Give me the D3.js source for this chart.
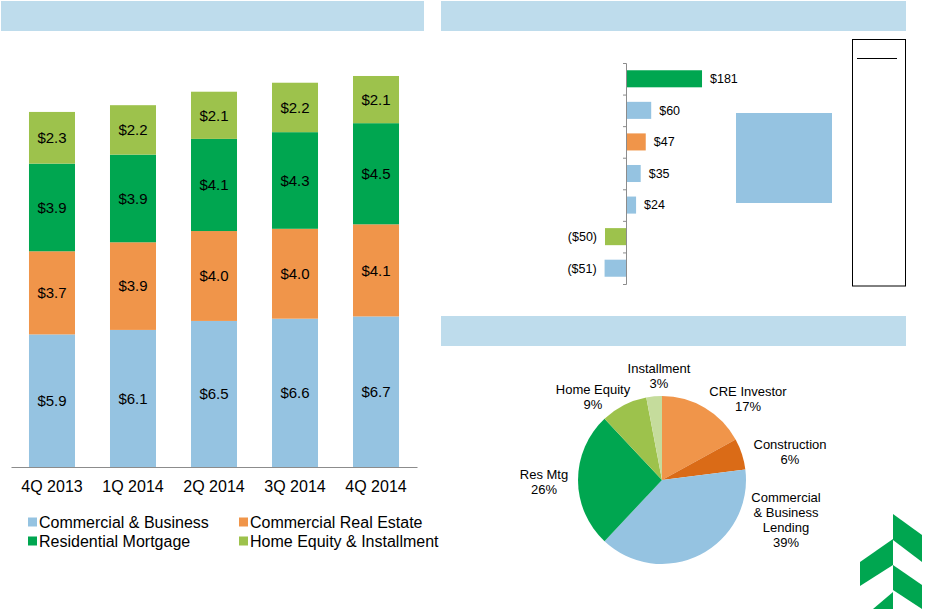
<!DOCTYPE html>
<html>
<head>
<meta charset="utf-8">
<script src="https://cdn.jsdelivr.net/npm/d3@7"></script>
<style>
  html, body { margin: 0; padding: 0; background: #fff; }
  svg { display: block; font-family: "Liberation Sans", Arial, sans-serif; }
</style>
</head>
<body>
<svg id="chart" width="927" height="609"></svg>
<script>
// ---------- DATA ----------
const quarters = ["4Q 2013", "1Q 2014", "2Q 2014", "3Q 2014", "4Q 2014"];
const seriesNames = ["Commercial & Business", "Commercial Real Estate", "Residential Mortgage", "Home Equity & Installment"];
const commercialBusiness = [5.9, 6.1, 6.5, 6.6, 6.7];
const commercialRealEstate = [3.7, 3.9, 4.0, 4.0, 4.1];
const residentialMortgage = [3.9, 3.9, 4.1, 4.3, 4.5];
const homeEquityInstallment = [2.3, 2.2, 2.1, 2.2, 2.1];

const changeKeys = ["c1", "c2", "c3", "c4", "c5", "c6", "c7"];
const changeValues = [181, 60, 47, 35, 24, -50, -51];
const changeLabels = ["$181", "$60", "$47", "$35", "$24", "($50)", "($51)"];
const changeSeries = ["Residential Mortgage", "Commercial & Business", "Commercial Real Estate",
  "Commercial & Business", "Commercial & Business", "Home Equity & Installment", "Commercial & Business"];

const pieNames = ["CRE Investor", "Construction", "Commercial\n& Business\nLending", "Res Mtg", "Home Equity", "Installment"];
const pieValues = [17, 6, 39, 26, 9, 3];

// ---------- STYLE ----------
const colors = {
  "Commercial & Business": "#95C3E1",
  "Commercial Real Estate": "#F0954A",
  "Residential Mortgage": "#00A650",
  "Home Equity & Installment": "#9DC24C"
};
const pieColors = ["#F0954A", "#DA6B17", "#95C3E1", "#00A650", "#9DC24C", "#C5DC9C"];
const headerColor = "#BEDCEC";

const svg = d3.select("#chart");

// header bars
svg.append("rect").attr("x", 1).attr("y", 1).attr("width", 423).attr("height", 30).attr("fill", headerColor);
svg.append("rect").attr("x", 441).attr("y", 1).attr("width", 465).attr("height", 30).attr("fill", headerColor);
svg.append("rect").attr("x", 441).attr("y", 316).attr("width", 465).attr("height", 30).attr("fill", headerColor);

// ---------- LEFT STACKED BAR ----------
const x = d3.scaleBand().domain(quarters).range([11, 417]).paddingInner(0.432).paddingOuter(0.222);
const y = d3.scaleLinear().domain([0, 18]).range([467, 62.5]);

const rows = quarters.map((q, i) => ({
  q,
  "Commercial & Business": commercialBusiness[i],
  "Commercial Real Estate": commercialRealEstate[i],
  "Residential Mortgage": residentialMortgage[i],
  "Home Equity & Installment": homeEquityInstallment[i]
}));
const stacked = d3.stack().keys(seriesNames)(rows);

const left = svg.append("g");
stacked.forEach(layer => {
  const g = left.append("g");
  g.selectAll("rect").data(layer).join("rect")
    .attr("x", d => x(d.data.q))
    .attr("width", x.bandwidth())
    .attr("y", d => y(d[1]))
    .attr("height", d => y(d[0]) - y(d[1]))
    .attr("fill", colors[layer.key]);
  g.selectAll("text").data(layer).join("text")
    .attr("x", d => x(d.data.q) + x.bandwidth() / 2)
    .attr("y", d => (y(d[0]) + y(d[1])) / 2)
    .attr("dy", "0.35em")
    .attr("text-anchor", "middle")
    .attr("font-size", 15)
    .attr("fill", "#000")
    .text(d => "$" + (d[1] - d[0]).toFixed(1));
});

const xAxis = left.append("g").attr("transform", "translate(0,467)")
  .call(d3.axisBottom(x).tickSize(0).tickPadding(14));
xAxis.select(".domain").attr("stroke", "#8c8c8c").attr("stroke-width", 1.2);
xAxis.selectAll("text").attr("font-size", 16).attr("fill", "#000")
  .attr("font-family", "Liberation Sans, Arial, sans-serif");

// legend
const legendPos = [[28, 522], [239, 522], [28, 541], [239, 541]];
const legend = left.append("g");
seriesNames.forEach((name, i) => {
  const [lx, ly] = legendPos[i];
  legend.append("rect").attr("x", lx).attr("y", ly - 4.5).attr("width", 9).attr("height", 9).attr("fill", colors[name]);
  legend.append("text").attr("x", lx + 11).attr("y", ly).attr("dy", "0.35em")
    .attr("font-size", 16).attr("fill", "#000").text(name);
});

// ---------- RIGHT TOP BAR ----------
const yb = d3.scaleBand().domain(changeKeys).range([63, 284]).paddingInner(0.46).paddingOuter(0.23);
const xb = d3.scaleLinear().domain([-60, 200]).range([600.8, 710]);
const right = svg.append("g");

right.selectAll("rect.bar").data(changeValues).join("rect")
  .attr("class", "bar")
  .attr("x", d => xb(Math.min(0, d)))
  .attr("width", d => Math.abs(xb(d) - xb(0)))
  .attr("y", (d, i) => yb(changeKeys[i]))
  .attr("height", yb.bandwidth())
  .attr("fill", (d, i) => colors[changeSeries[i]]);

right.selectAll("text.lbl").data(changeValues).join("text")
  .attr("class", "lbl")
  .attr("x", d => d >= 0 ? xb(d) + 8 : xb(d) - 8)
  .attr("y", (d, i) => yb(changeKeys[i]) + yb.bandwidth() / 2)
  .attr("dy", "0.35em")
  .attr("text-anchor", d => d >= 0 ? "start" : "end")
  .attr("font-size", 12.5)
  .attr("fill", "#000")
  .text((d, i) => changeLabels[i]);

const tickScale = d3.scaleLinear().domain([0, changeKeys.length]).range([63, 284]);
const yAxis = right.append("g").attr("transform", `translate(${xb(0)},0)`)
  .call(d3.axisLeft(tickScale).tickValues(d3.range(changeKeys.length + 1)).tickSize(3).tickSizeOuter(3).tickFormat(""));
yAxis.select(".domain").attr("stroke", "#8c8c8c");
yAxis.selectAll(".tick line").attr("stroke", "#8c8c8c");

// decorative boxes
right.append("rect").attr("x", 736).attr("y", 113).attr("width", 96).attr("height", 90).attr("fill", "#95C3E1");
right.append("rect").attr("x", 852.5).attr("y", 39.5).attr("width", 53).attr("height", 246.5)
  .attr("fill", "none").attr("stroke", "#000").attr("stroke-width", 1);
right.append("line").attr("x1", 857).attr("x2", 897).attr("y1", 58.5).attr("y2", 58.5)
  .attr("stroke", "#000").attr("stroke-width", 1);

// ---------- PIE ----------
const cx = 662, cy = 480, r = 84;
const pie = d3.pie().sort(null).value(d => d)(pieValues);
const arc = d3.arc().innerRadius(0).outerRadius(r);
const pg = svg.append("g").attr("transform", `translate(${cx},${cy})`);
pg.selectAll("path").data(pie).join("path")
  .attr("d", arc)
  .attr("fill", (d, i) => pieColors[i]);

// label layout (offsets from pie centre of each label's first line)
const labelOffsets = [[86, -89], [128, -36], [124, 17], [-118, -6], [-69, -91], [-3, -112]];
pie.forEach((d, i) => {
  const lines = pieNames[i].split("\n").concat([pieValues[i] + "%"]);
  const t = pg.append("text").attr("text-anchor", "middle").attr("font-size", 13).attr("fill", "#000");
  lines.forEach((ln, j) => {
    t.append("tspan").attr("x", labelOffsets[i][0]).attr("y", labelOffsets[i][1] + j * 15)
      .attr("dy", "0.35em").text(ln);
  });
});

// ---------- LOGO ----------
const logoShapes = [
  [[893, 514], [922, 535], [922, 562], [893, 540]],
  [[860, 562], [893, 539], [893, 565], [860, 586]],
  [[893, 565], [922, 585], [922, 609], [893, 590]],
  [[873, 609], [893, 592], [893, 609]]
];
svg.append("g").selectAll("polygon").data(logoShapes).join("polygon")
  .attr("points", d => d.map(p => p.join(",")).join(" "))
  .attr("fill", "#00A650");
</script>
</body>
</html>
